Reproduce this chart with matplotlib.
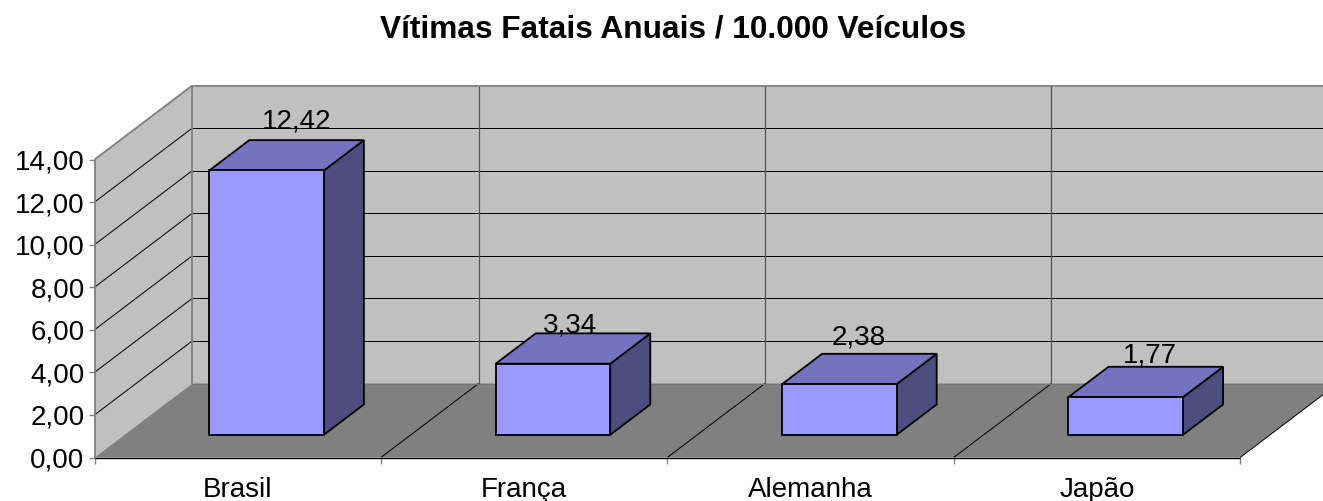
import matplotlib
matplotlib.use("Agg")
import matplotlib.pyplot as plt

plt.rcParams['font.family'] = ['Liberation Sans', 'DejaVu Sans']

title = "Vítimas Fatais Anuais / 10.000 Veículos"
categories = ["Brasil", "França", "Alemanha", "Japão"]
values = [12.42, 3.34, 2.38, 1.77]
value_ticks = [0, 2, 4, 6, 8, 10, 12, 14]

W, H = 1323, 502
X0, Y0 = 94.5, 458.5      # front-left floor corner, in pixels
SLOT = 286.4              # pixels per category
UNIT = 21.28              # pixels per value unit
DX, DY = 97.7, -74.0      # depth vector, in pixels
LABEL_NUDGE = [(-11, -23), (-24, -12), (-21.5, -20), (-17, -15)]

WALL, FLOOR, EDGE = "#C0C0C0", "#808080", "#808080"
FRONT, TOP, SIDE = "#9999FF", "#7373BF", "#4D4D80"


def fmt(v):
    return f"{v:.2f}".replace(".", ",")


def P(c, v, d):
    """Project category position c, value v, depth d (0..1) to pixels."""
    return (X0 + c * SLOT + d * DX, Y0 - v * UNIT + d * DY)


def poly(ax, pts, fc, ec=None, lw=0.0, z=1):
    xs, ys = zip(*pts)
    ax.fill(xs, ys, facecolor=fc, edgecolor=ec if ec else fc, linewidth=lw,
            joinstyle="miter", zorder=z)


def line(ax, a, b, color="black", lw=0.72, z=2):
    ax.plot([a[0], b[0]], [a[1], b[1]], color=color, lw=lw, zorder=z,
            solid_capstyle="butt")


fig = plt.figure(figsize=(W / 100, H / 100), dpi=100)
ax = fig.add_axes([0, 0, 1, 1])
ax.set_xlim(0, W)
ax.set_ylim(H, 0)
ax.axis("off")

n = len(categories)
vmax = value_ticks[-1]

# walls and floor
poly(ax, [P(0, 0, 1), P(n, 0, 1), P(n, vmax, 1), P(0, vmax, 1)], WALL)
poly(ax, [P(0, 0, 0), P(0, 0, 1), P(0, vmax, 1), P(0, vmax, 0)], WALL)
poly(ax, [P(0, 0, 0), P(n, 0, 0), P(n, 0, 1), P(0, 0, 1)], FLOOR)

# gridlines
for v in value_ticks[1:-1]:
    line(ax, P(0, v, 0), P(0, v, 1))
    line(ax, P(0, v, 1), P(n, v, 1))
for c in range(1, n):
    line(ax, P(c, 0, 0), P(c, 0, 1), lw=0.72)
    line(ax, P(c, 0, 1), P(c, vmax, 1), color="#555555", lw=0.9)
line(ax, P(n, 0, 0), P(n, 0, 1), color="black", lw=0.72)

# wall outlines
for a, b in [(P(0, 0, 0), P(0, vmax, 0)), (P(0, vmax, 0), P(0, vmax, 1)),
             (P(0, vmax, 1), P(n, vmax, 1)), (P(0, 0, 1), P(0, vmax, 1))]:
    line(ax, a, b, color=EDGE, lw=1.3, z=3)
line(ax, P(0, 0, 1), P(n, 0, 1), color="#767676", lw=0.8, z=3)

# axes and ticks
line(ax, P(0, 0, 0), P(n, 0, 0), color="black", lw=1.0, z=4)
for v in value_ticks:
    x, y = P(0, v, 0)
    line(ax, (x - 6, y), (x, y), color=EDGE, lw=1.0, z=3)
    ax.text(x - 10, y - 1, fmt(v), ha="right", va="center_baseline", fontsize=20, color="black")
for c in range(n + 1):
    x, y = P(c, 0, 0)
    line(ax, (x, y), (x, y + 6), color=EDGE, lw=1.0, z=3)
for c, name in enumerate(categories):
    x, y = P(c + 0.5, 0, 0)
    ax.text(x, 487, name, ha="center", va="center_baseline", fontsize=20, color="black")

# bars
L, R, D0, D1 = 0.296, 0.696, 0.307, 0.717
for i, v in enumerate(values):
    a, b = i + L, i + R
    poly(ax, [P(b, 0, D0), P(b, 0, D1), P(b, v, D1), P(b, v, D0)], SIDE, "black", 1.3, 5)
    poly(ax, [P(a, v, D0), P(b, v, D0), P(b, v, D1), P(a, v, D1)], TOP, "black", 1.3, 5)
    poly(ax, [P(a, 0, D0), P(b, 0, D0), P(b, v, D0), P(a, v, D0)], FRONT, "black", 1.3, 6)

# data labels
for i, v in enumerate(values):
    x, y = P(i + 0.5, v, D1)
    nx, ny = LABEL_NUDGE[i]
    ax.text(x + nx, y + ny, fmt(v), ha="center", va="center_baseline", fontsize=20,
            color="black", zorder=7)

ax.text(673, 26, title, ha="center", va="center_baseline", fontsize=22.8,
        fontweight="bold", color="black")

fig.savefig("out.png", dpi=100)
